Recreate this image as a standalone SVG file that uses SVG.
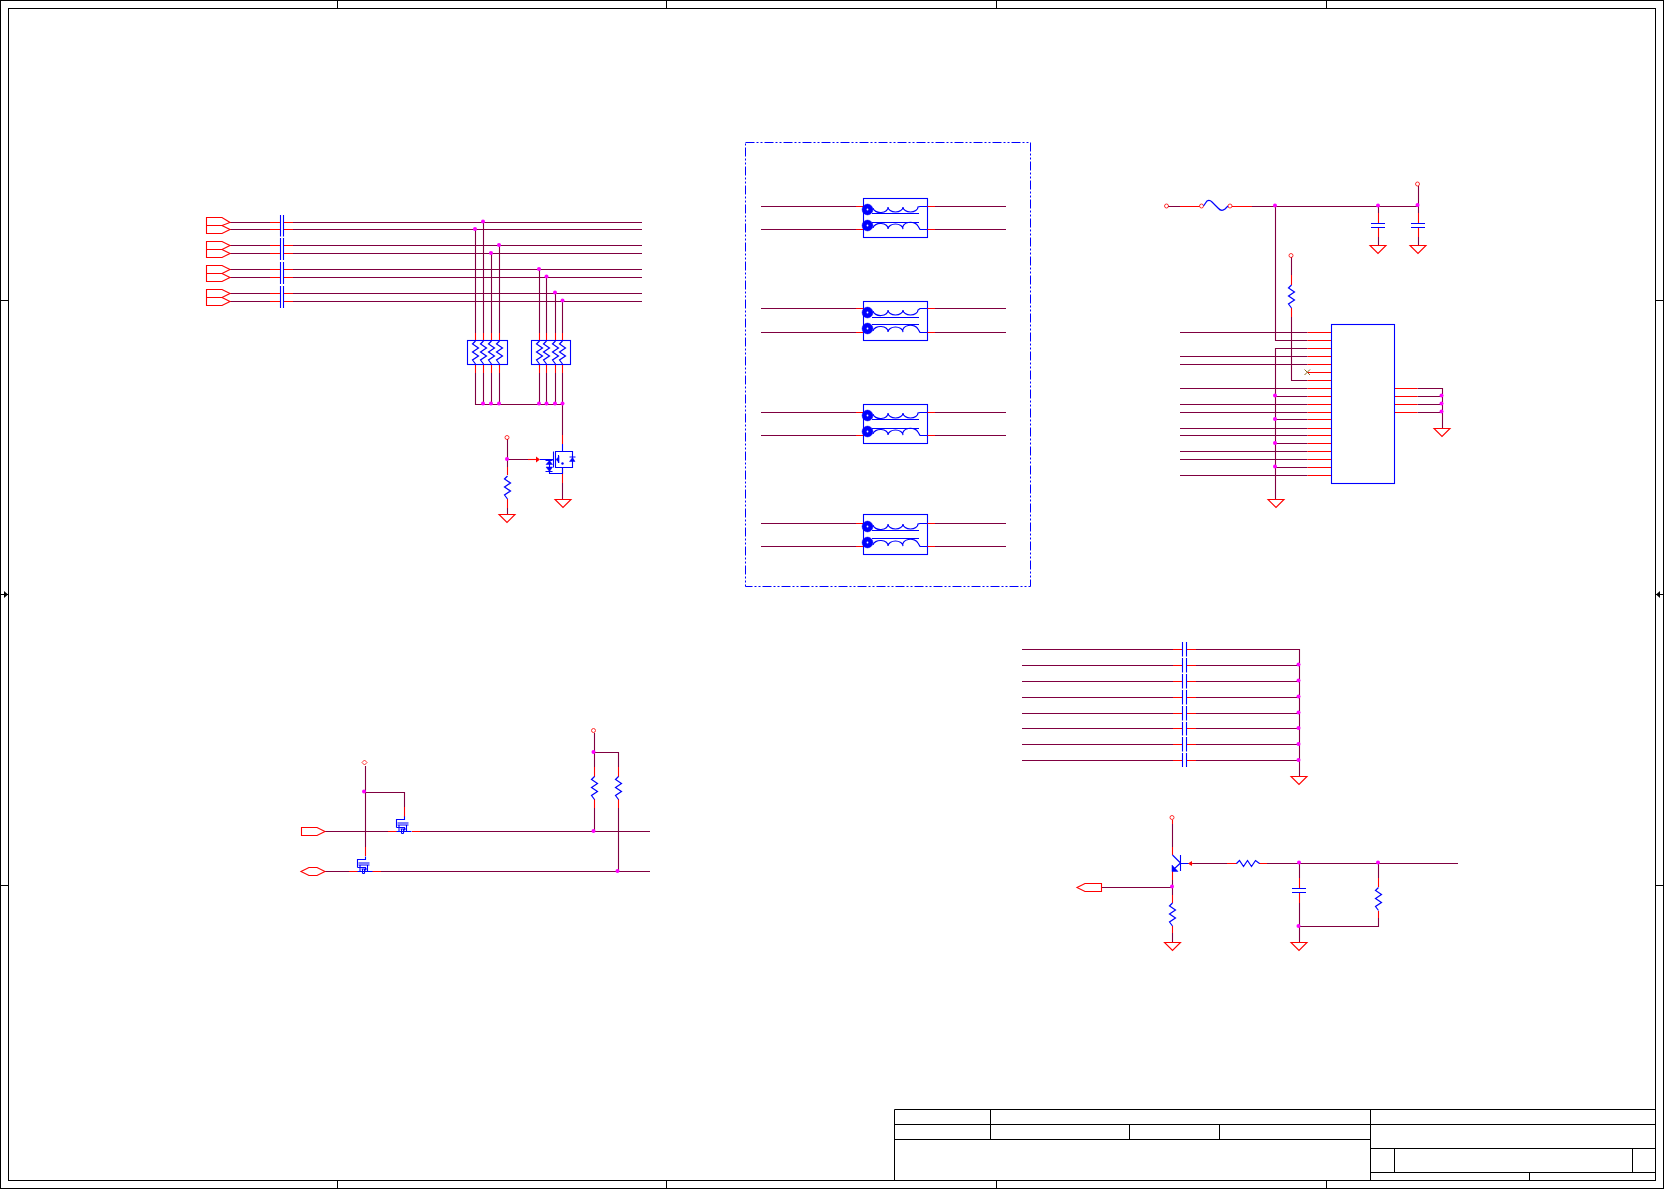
<svg xmlns="http://www.w3.org/2000/svg" width="1664" height="1189" viewBox="0 0 1664 1189">
<style>
.k{stroke:#000;fill:none;stroke-width:1}
.w{stroke:#800040;fill:none;stroke-width:1.1}
.r{stroke:#f00;fill:none;stroke-width:1.1}
.b{stroke:#00f;fill:none;stroke-width:1.1}
.t{stroke:#00f;fill:none;stroke-width:1.2}
.f{fill:#00f;stroke:#00f;stroke-width:.5}
.o{stroke:#f00;fill:none;stroke-width:.8}
.dd{stroke:#00f;fill:none;stroke-width:1;stroke-dasharray:9 2 2 2 2 2}
.j{fill:#f0f;stroke:none}
</style>
<defs>
<path id="gnd" class="r" d="M-8 0H8L0 8Z"/>
<path id="zz" class="t" d="M0 0L-3 3L3 7L-3 11L3 15L-3 19L0 23"/>
<path id="zzh" class="t" d="M0 0L3 -3L7 3L11 -3L15 3L19 -3L23 0"/>
<circle id="jn" class="j" r="2"/>
<g id="fet">
<path class="b" d="M0 -15V-12H-8V-4M-7 -8.5H4M-7 -6.5H4M-5.5 -6.5V0M2 -6.5V0M-5.5 -4H0V-1M-8 -4H-5.5M-8 0H7"/>
<path class="b" d="M-3 -2V2M-1 -2V2M-3 2H-1M-4 -2.5H2"/>
</g>
<g id="xf">
<circle class="f" cx="867.5" cy="0" r="5.4"/>
<circle cx="867.5" cy="0" r=".9" fill="#fff"/>
</g>
</defs>

<g id="frame">
<rect class="k" x="0.5" y="0.5" width="1663" height="1188"/>
<rect class="k" x="8.5" y="8.5" width="1647" height="1172"/>
<path class="k" d="M337.5 0V8M666.5 0V8M996.5 0V8M1326.5 0V8M337.5 1180V1188M666.5 1180V1188M996.5 1180V1188M1326.5 1180V1188"/>
<path class="k" d="M0 300.5H8M0 594.5H8M0 885.5H8M1655 300.5H1664M1655 594.5H1664M1655 885.5H1664"/>
<path d="M4 591L8 594.5L4 598ZM1660 591L1656 594.5L1660 598Z" fill="#000"/>
</g>

<g id="title-block">
<path class="k" d="M894.5 1180V1109.5H1655M894.5 1124.5H1655M894.5 1139.5H1370.5M990.5 1109.5V1139.5M1129.5 1124.5V1139.5M1219.5 1124.5V1139.5M1370.5 1109.5V1180M1370.5 1148.5H1655M1370.5 1172.5H1655M1394.5 1148.5V1172.5M1632.5 1148.5V1172.5M1529.5 1172.5V1180"/>
</g>

<g id="connectors">
<path class="w" d="M230 222.5H270M293 222.5H642M230 229.5H270M293 229.5H642M230 245.5H270M293 245.5H642M230 253.5H270M293 253.5H642M230 269.5H270M293 269.5H642M230 277.5H270M293 277.5H642M230 293.5H270M293 293.5H642M230 301.5H270M293 301.5H642"/>
<path class="w" d="M475.5 229.5V333M483.5 222.5V333M491.5 253.5V333M499.5 245.5V333M539.5 269.5V333M546.5 277.5V333M555.5 293.5V333M562.5 301.5V333"/>
<path class="w" d="M475.5 373V404.5H562.5M483.5 373V404.5M491.5 373V404.5M499.5 373V404.5M539.5 373V404.5M546.5 373V404.5M555.5 373V404.5M562.5 373V435"/>
<path class="w" d="M507.5 439V467M507.5 459.5H528M562.5 483V499M507.5 508V514"/>
<path class="w" d="M761 206.5H856M761 229.5H856M761 308.5H856M761 332.5H856M761 412.5H856M761 435.5H856M761 523.5H856M761 546.5H856"/>
<path class="w" d="M935 206.5H1006M935 229.5H1006M935 308.5H1006M935 332.5H1006M935 412.5H1006M935 435.5H1006M935 523.5H1006M935 546.5H1006"/>
<path class="w" d="M1168 206.5H1180M1252 206.5H1418.5M1418.5 186V213M1378.5 206.5V213M1378.5 237V245M1418.5 237V245"/>
<path class="w" d="M1275.5 206.5V340.5H1307.5M1275.5 499V348.5H1307.5"/>
<path class="w" d="M1291.5 257V275M1291.5 317V380.5H1307.5"/>
<path class="w" d="M1180 332.5H1307.5M1180 356.5H1307.5M1180 364.5H1307.5M1180 388.5H1307.5M1275.5 396.5H1307.5M1180 404.5H1307.5M1180 412.5H1307.5M1275.5 419.5H1307.5M1180 428.5H1307.5M1180 435.5H1307.5M1275.5 443.5H1307.5M1180 451.5H1307.5M1180 459.5H1307.5M1275.5 467.5H1307.5M1180 475.5H1307.5"/>
<path class="w" d="M1417.5 388.5H1442.5V428M1417.5 396.5H1442.5M1417.5 404.5H1442.5M1417.5 412.5H1442.5"/>
<path class="w" d="M325 831.5H388M420 831.5H650M325 871.5H349M381 871.5H650"/>
<path class="w" d="M365.5 766V847M365.5 792.5H404.5V807"/>
<path class="w" d="M594.5 733V767M594.5 752.5H618.5V767M594.5 808V831.5M618.5 808V871.5"/>
<path class="w" d="M1022 649.5H1173M1022 665.5H1173M1022 681.5H1173M1022 697.5H1173M1022 713.5H1173M1022 728.5H1173M1022 744.5H1173M1022 760.5H1173"/>
<path class="w" d="M1196 649.5H1299.5V776M1196 665.5H1299.5M1196 681.5H1299.5M1196 697.5H1299.5M1196 713.5H1299.5M1196 728.5H1299.5M1196 744.5H1299.5M1196 760.5H1299.5"/>
<path class="w" d="M1172.5 824V847M1193 863.5H1227M1267 863.5H1458M1101 887.5H1172.5M1172.5 880V895M1172.5 933V942M1299.5 863.5V878M1299.5 903V942M1299.5 926.5H1378.5V918M1378.5 863.5V878"/>
</g>

<g id="port-a"><path class="r" d="M206.5 217.5H222L230 222.5L222 225.5L230 229.5L222 233.5H206.5ZM206.5 225.5H222"/></g>
<g id="port-b"><path class="r" d="M206.5 241.5H222L230 245.5L222 249.5L230 253.5L222 257.5H206.5ZM206.5 249.5H222"/></g>
<g id="port-c"><path class="r" d="M206.5 265.5H222L230 269.5L222 273.5L230 277.5L222 281.5H206.5ZM206.5 273.5H222"/></g>
<g id="port-d"><path class="r" d="M206.5 289.5H222L230 293.5L222 297.5L230 301.5L222 305.5H206.5ZM206.5 297.5H222"/></g>

<g id="cap-group-a">
<path class="r" d="M270 222.5H280M284 222.5H293M270 229.5H280M284 229.5H293M270 245.5H280M284 245.5H293M270 253.5H280M284 253.5H293M270 269.5H280M284 269.5H293M270 277.5H280M284 277.5H293M270 293.5H280M284 293.5H293M270 301.5H280M284 301.5H293"/>
<path class="b" d="M280.5 215V236.5M283.5 215V236.5M280.5 238V260M283.5 238V260M280.5 262V284M283.5 262V284M280.5 286V308M283.5 286V308"/>
</g>

<g id="respack-1">
<rect class="b" x="467.5" y="340.5" width="40" height="24"/>
<path class="r" d="M475.5 333V340M483.5 333V340M491.5 333V340M499.5 333V340M475.5 365V373M483.5 365V373M491.5 365V373M499.5 365V373"/>
<use href="#zz" x="475.5" y="341"/><use href="#zz" x="483.5" y="341"/><use href="#zz" x="491.5" y="341"/><use href="#zz" x="499.5" y="341"/>
</g>
<g id="respack-2">
<rect class="b" x="531.5" y="340.5" width="39" height="24"/>
<path class="r" d="M539.5 333V340M546.5 333V340M555.5 333V340M562.5 333V340M539.5 365V373M546.5 365V373M555.5 365V373M562.5 365V373"/>
<use href="#zz" x="539.5" y="341"/><use href="#zz" x="546.5" y="341"/><use href="#zz" x="555.5" y="341"/><use href="#zz" x="562.5" y="341"/>
</g>
<g id="junctions-a">
<use href="#jn" x="475" y="229"/><use href="#jn" x="483" y="221.5"/><use href="#jn" x="491" y="253"/><use href="#jn" x="499" y="245"/><use href="#jn" x="539" y="269"/><use href="#jn" x="546.5" y="276.5"/><use href="#jn" x="555" y="292.5"/><use href="#jn" x="562.5" y="300.5"/>
<use href="#jn" x="483" y="403.5"/><use href="#jn" x="491" y="403.5"/><use href="#jn" x="499" y="403.5"/><use href="#jn" x="539" y="403.5"/><use href="#jn" x="546.5" y="403.5"/><use href="#jn" x="555" y="403.5"/><use href="#jn" x="562.5" y="403.5"/>
<use href="#jn" x="507" y="459"/>
</g>
<g id="mosfet">
<path class="r" d="M562.5 435V444M562.5 467V483"/>
<path class="r" d="M528 459.5H537"/>
<path d="M536 456.5L540 459.5L536 462.5Z" fill="#f00"/>
<path class="b" d="M540 459.5H553M553.5 451.5V467.5M562.5 444V451.5M555.5 451.5H572.5V467.5H555.5ZM558.5 455V463M562.5 467.5V473.5H549.5V459.5"/>
<path class="f" d="M556 459.5L559 456.5V462.5ZM569.5 461.5H575L572.5 457.5ZM546 464.5H552.5L549.5 460.5ZM546 467H552.5L549.5 471.5Z"/>
<path class="b" d="M569.5 457H575.5M545.5 460.5H552.5M545.5 471.5H552.5"/>
<circle cx="562.5" cy="463.5" r="1.2" fill="#00f"/>
</g>
<g id="gnd-1"><use href="#gnd" x="563" y="499.5"/></g>
<g id="res-1">
<circle class="o" cx="507" cy="437.5" r="2"/>
<path class="r" d="M507.5 467V475M507.5 499V508"/>
<use href="#zz" x="507.5" y="476"/>
<use href="#gnd" x="507" y="514.5"/>
</g>

<g id="frame-dash"><rect class="dd" x="745.5" y="142.5" width="285" height="444"/></g>

<g id="xfmr-1">
<rect class="b" x="863.5" y="198.5" width="64" height="39"/>
<path class="r" d="M856 206.5H863M856 229.5H863M927.5 206.5H935M927.5 229.5H935"/>
<path class="b" d="M872 213.5H919M872 222.5H919"/>
<path class="t" d="M873 208A7.5 5 0 0 0 888 207A7.5 5 0 0 0 903 207A7.5 5 0 0 0 918 207L920 206.5H927M873 228A7.5 5 0 0 1 888 229A7.5 5 0 0 1 903 229A7.5 5 0 0 1 918 226L920 229.5H927"/>
<use href="#xf" y="209.5"/><use href="#xf" y="225.5"/>
</g>
<g id="xfmr-2">
<rect class="b" x="863.5" y="301.5" width="64" height="39"/>
<path class="r" d="M856 308.5H863M856 332.5H863M927.5 308.5H935M927.5 332.5H935"/>
<path class="b" d="M872 317.5H919M872 324.5H919"/>
<path class="t" d="M873 311A7.5 5 0 0 0 888 310A7.5 5 0 0 0 903 310A7.5 5 0 0 0 918 310L920 308.5H927M873 331A7.5 5 0 0 1 888 332A7.5 5 0 0 1 903 332A7.5 5 0 0 1 918 329L920 332.5H927"/>
<use href="#xf" y="312.5"/><use href="#xf" y="328.5"/>
</g>
<g id="xfmr-3">
<rect class="b" x="863.5" y="404.5" width="64" height="39"/>
<path class="r" d="M856 412.5H863M856 435.5H863M927.5 412.5H935M927.5 435.5H935"/>
<path class="b" d="M872 419.5H919M872 428.5H919"/>
<path class="t" d="M873 414A7.5 5 0 0 0 888 413A7.5 5 0 0 0 903 413A7.5 5 0 0 0 918 413L920 412.5H927M873 434A7.5 5 0 0 1 888 435A7.5 5 0 0 1 903 435A7.5 5 0 0 1 918 432L920 435.5H927"/>
<use href="#xf" y="415.5"/><use href="#xf" y="431.5"/>
</g>
<g id="xfmr-4">
<rect class="b" x="863.5" y="514.5" width="64" height="40"/>
<path class="r" d="M856 523.5H863M856 546.5H863M927.5 523.5H935M927.5 546.5H935"/>
<path class="b" d="M872 530.5H919M872 538.5H919"/>
<path class="t" d="M873 525A7.5 5 0 0 0 888 524A7.5 5 0 0 0 903 524A7.5 5 0 0 0 918 524L920 523.5H927M873 545A7.5 5 0 0 1 888 546A7.5 5 0 0 1 903 546A7.5 5 0 0 1 918 543L920 546.5H927"/>
<use href="#xf" y="526.5"/><use href="#xf" y="542.5"/>
</g>

<g id="fuse">
<circle class="o" cx="1166.5" cy="206" r="2"/>
<circle class="o" cx="1201.5" cy="206" r="2"/>
<circle class="o" cx="1230" cy="206" r="2"/>
<path class="r" d="M1180 206.5H1199.5M1232 206.5H1252"/>
<path class="t" d="M1203.5 206L1207 201Q1209.5 199.5 1212 202L1218 208Q1221.5 212 1225 209L1228 206"/>
</g>
<g id="cap-top-1">
<path class="r" d="M1378.5 213V223M1378.5 228V237"/>
<path class="b" d="M1371 223.5H1385M1371 227.5H1385"/>
<use href="#gnd" x="1378" y="245.5"/>
</g>
<g id="cap-top-2">
<circle class="o" cx="1417.5" cy="184" r="2"/>
<path class="r" d="M1418.5 213V223M1418.5 228V237"/>
<path class="b" d="M1411 223.5H1425M1411 227.5H1425"/>
<use href="#gnd" x="1418" y="245.5"/>
</g>
<g id="res-top">
<circle class="o" cx="1291" cy="255.5" r="2"/>
<path class="r" d="M1291.5 275V285M1291.5 308V317"/>
<use href="#zz" x="1291.5" y="285"/>
</g>
<g id="ic">
<rect class="b" x="1331.5" y="324.5" width="63" height="159"/>
<path class="r" d="M1307.5 332.5H1331M1307.5 340.5H1331M1307.5 348.5H1331M1307.5 356.5H1331M1307.5 364.5H1331M1307.5 372.5H1331M1307.5 380.5H1331M1307.5 388.5H1331M1307.5 396.5H1331M1307.5 404.5H1331M1307.5 412.5H1331M1307.5 419.5H1331M1307.5 428.5H1331M1307.5 435.5H1331M1307.5 443.5H1331M1307.5 451.5H1331M1307.5 459.5H1331M1307.5 467.5H1331M1307.5 475.5H1331"/>
<path class="r" d="M1395 388.5H1417.5M1395 396.5H1417.5M1395 404.5H1417.5M1395 412.5H1417.5"/>
<path d="M1304.5 369.5L1310 375M1310 369.5L1304.5 375" stroke="#8a6a20" stroke-width="1" fill="none"/>
</g>
<g id="gnd-ic"><use href="#gnd" x="1276" y="499.5"/></g>
<g id="gnd-ic-2"><use href="#gnd" x="1442" y="428.5"/></g>
<g id="junctions-c">
<use href="#jn" x="1275" y="205.5"/><use href="#jn" x="1378" y="205.5"/><use href="#jn" x="1417.5" y="205"/>
<use href="#jn" x="1275" y="395.5"/><use href="#jn" x="1275" y="419"/><use href="#jn" x="1275" y="443"/><use href="#jn" x="1275" y="466.5"/>
<use href="#jn" x="1441.5" y="395.5"/><use href="#jn" x="1441.5" y="403.5"/><use href="#jn" x="1441.5" y="411.5"/>
</g>

<g id="port-e"><path class="r" d="M301.5 827.5H317L325 831.5L317 835.5H301.5Z"/></g>
<g id="port-f"><path class="r" d="M301 871.5L309 867.5H317L325 871.5L317 875.5H309Z"/></g>
<g id="fet-1">
<path class="r" d="M404.5 807V817M388 831.5H397M412 831.5H420"/>
<use href="#fet" x="404.5" y="831.5"/>
</g>
<g id="fet-2">
<path class="o" d="M364.5 760L367 762.5L364.5 765L362 762.5Z"/>
<path class="r" d="M365.5 847V856M349 871.5H358M372 871.5H381"/>
<use href="#fet" x="365.5" y="871.5"/>
</g>
<g id="res-pu-1">
<circle class="o" cx="593.5" cy="730.5" r="2"/>
<path class="r" d="M594.5 767V777M594.5 799V808"/>
<use href="#zz" x="594.5" y="776.5"/>
</g>
<g id="res-pu-2">
<path class="r" d="M618.5 767V777M618.5 799V808"/>
<use href="#zz" x="618.5" y="776.5"/>
</g>
<g id="junctions-d">
<use href="#jn" x="364" y="791.5"/><use href="#jn" x="593.5" y="752"/><use href="#jn" x="593.5" y="831"/><use href="#jn" x="617.5" y="871"/>
</g>

<g id="cap-bank">
<path class="r" d="M1173 649.5H1182M1187 649.5H1196M1173 665.5H1182M1187 665.5H1196M1173 681.5H1182M1187 681.5H1196M1173 697.5H1182M1187 697.5H1196M1173 713.5H1182M1187 713.5H1196M1173 728.5H1182M1187 728.5H1196M1173 744.5H1182M1187 744.5H1196M1173 760.5H1182M1187 760.5H1196"/>
<path class="b" d="M1182.5 642V656.5M1186.5 642V656.5M1182.5 658V672.5M1186.5 658V672.5M1182.5 674V688.5M1186.5 674V688.5M1182.5 690V704.5M1186.5 690V704.5M1182.5 706V720.5M1186.5 706V720.5M1182.5 722V735.5M1186.5 722V735.5M1182.5 737V751.5M1186.5 737V751.5M1182.5 753V767M1186.5 753V767"/>
<use href="#jn" x="1298.5" y="664.5"/><use href="#jn" x="1298.5" y="680.5"/><use href="#jn" x="1298.5" y="696.5"/><use href="#jn" x="1298.5" y="712.5"/><use href="#jn" x="1298.5" y="728"/><use href="#jn" x="1298.5" y="744"/><use href="#jn" x="1298.5" y="760"/>
<use href="#gnd" x="1299" y="776.5"/>
</g>

<g id="transistor">
<circle class="o" cx="1172" cy="817.5" r="2"/>
<path class="r" d="M1172.5 820V824M1172.5 847V855M1172.5 871V880"/>
<path class="b" d="M1180.5 855V871M1172.5 855L1180.5 863M1180.5 863.5H1189M1180.5 863L1174 869"/>
<path class="f" d="M1172 871.5H1178L1172 865Z"/>
<path class="r" d="M1189 863.5H1193"/>
<path d="M1188 863.5L1192 861V866Z" fill="#f00"/>
</g>
<g id="port-g"><path class="r" d="M1077 887.5L1085 883.5H1101.5V891.5H1085Z"/></g>
<g id="res-e">
<path class="r" d="M1172.5 895V903M1172.5 926V933"/>
<use href="#zz" x="1172.5" y="903"/>
<use href="#gnd" x="1172.5" y="942.5"/>
</g>
<g id="res-b">
<path class="r" d="M1227 863.5H1237M1259 863.5H1267"/>
<use href="#zzh" x="1236.5" y="863.5"/>
</g>
<g id="cap-f">
<path class="r" d="M1299.5 878V889M1299.5 893V903"/>
<path class="b" d="M1292 888.5H1306M1292 892.5H1306"/>
<use href="#gnd" x="1299" y="942.5"/>
</g>
<g id="res-f">
<path class="r" d="M1378.5 878V887M1378.5 911V918"/>
<use href="#zz" x="1378.5" y="887.5"/>
</g>
<g id="junctions-e">
<use href="#jn" x="1172" y="886.5"/><use href="#jn" x="1299" y="862.5"/><use href="#jn" x="1378" y="862.5"/><use href="#jn" x="1298.5" y="926"/>
</g>
</svg>
